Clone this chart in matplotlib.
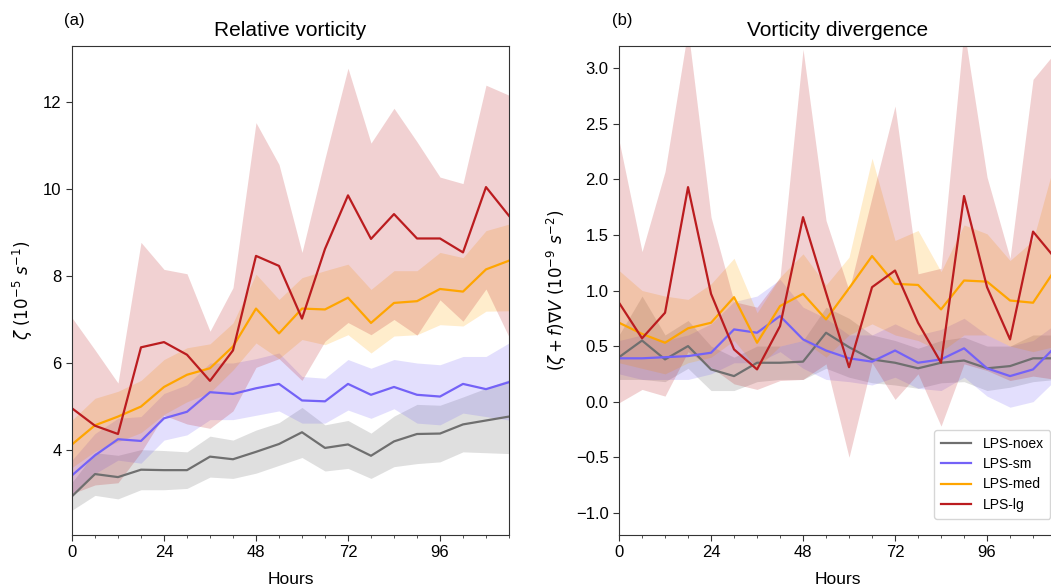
import matplotlib
matplotlib.use("Agg")
import matplotlib.pyplot as plt
from matplotlib.ticker import MultipleLocator

plt.rcParams['font.family'] = ['Liberation Sans', 'DejaVu Sans']
plt.rcParams['mathtext.fontset'] = 'dejavusans'

hours = [0, 6, 12, 18, 24, 30, 36, 42, 48, 54, 60, 66, 72, 78, 84, 90, 96, 102, 108, 114]

# (a) relative vorticity, 1e-5 s^-1
noex_mean = [2.94, 3.45, 3.38, 3.55, 3.54, 3.54, 3.85, 3.79, 3.96, 4.14, 4.41, 4.05, 4.13, 3.87, 4.2, 4.37, 4.38, 4.59, 4.68, 4.77]
noex_lo = [2.62, 2.96, 2.88, 3.09, 3.09, 3.12, 3.38, 3.35, 3.47, 3.65, 3.83, 3.52, 3.58, 3.35, 3.62, 3.69, 3.73, 3.96, 3.94, 3.92]
noex_hi = [3.26, 3.94, 3.88, 4.01, 3.99, 3.96, 4.32, 4.23, 4.46, 4.63, 4.98, 4.58, 4.68, 4.39, 4.78, 5.05, 5.03, 5.22, 5.42, 5.62]

sm_mean = [3.42, 3.88, 4.25, 4.21, 4.73, 4.88, 5.33, 5.29, 5.42, 5.52, 5.14, 5.12, 5.52, 5.27, 5.45, 5.27, 5.23, 5.52, 5.4, 5.56]
sm_lo = [3.0, 3.46, 3.77, 3.7, 4.23, 4.35, 4.7, 4.7, 4.8, 4.9, 4.62, 4.62, 4.92, 4.73, 4.95, 4.62, 4.58, 4.85, 4.77, 4.69]
sm_hi = [3.77, 4.38, 4.73, 4.77, 5.3, 5.5, 6.0, 6.0, 6.1, 6.23, 5.69, 5.65, 6.08, 5.88, 6.08, 6.0, 5.96, 6.15, 6.15, 6.46]

med_mean = [4.13, 4.57, 4.77, 5.0, 5.45, 5.73, 5.88, 6.38, 7.25, 6.68, 7.25, 7.23, 7.5, 6.92, 7.38, 7.42, 7.7, 7.64, 8.15, 8.35]
med_lo = [3.6, 3.97, 4.19, 4.4, 4.82, 5.11, 5.32, 5.84, 6.46, 6.1, 6.54, 6.42, 6.65, 6.23, 6.62, 6.65, 6.88, 6.85, 7.19, 7.2]
med_hi = [4.69, 5.19, 5.35, 5.6, 6.08, 6.35, 6.44, 6.92, 8.04, 7.46, 7.96, 8.12, 8.27, 7.69, 8.12, 8.12, 8.54, 8.42, 9.04, 9.19]

lg_mean = [4.96, 4.56, 4.37, 6.36, 6.48, 6.19, 5.59, 6.29, 8.46, 8.23, 7.02, 8.62, 9.85, 8.85, 9.42, 8.86, 8.86, 8.54, 10.04, 9.38]
lg_lo = [3.0, 3.2, 3.25, 3.95, 4.8, 4.6, 4.5, 4.9, 5.9, 6.1, 5.6, 6.5, 6.93, 6.65, 7.0, 6.64, 7.45, 6.96, 7.7, 6.6]
lg_hi = [7.04, 6.3, 5.54, 8.77, 8.15, 8.05, 6.73, 7.73, 11.52, 10.56, 8.54, 10.7, 12.77, 11.05, 11.85, 11.08, 10.27, 10.12, 12.38, 12.15]

# (b) vorticity divergence, 1e-9 s^-2
noex_div = [0.4, 0.55, 0.38, 0.5, 0.29, 0.23, 0.35, 0.35, 0.36, 0.62, 0.49, 0.38, 0.35, 0.3, 0.35, 0.37, 0.3, 0.32, 0.39, 0.39]
noex_div_lo = [0.2, 0.2, 0.18, 0.3, 0.1, 0.1, 0.18, 0.2, 0.2, 0.3, 0.22, 0.17, 0.15, 0.12, 0.17, 0.18, 0.1, 0.13, 0.18, 0.2]
noex_div_hi = [0.6, 0.95, 0.6, 0.73, 0.5, 0.4, 0.5, 0.5, 0.55, 0.85, 0.75, 0.6, 0.55, 0.48, 0.55, 0.58, 0.5, 0.5, 0.6, 0.6]

sm_div = [0.39, 0.39, 0.4, 0.41, 0.44, 0.65, 0.62, 0.77, 0.56, 0.46, 0.39, 0.36, 0.46, 0.35, 0.38, 0.48, 0.3, 0.23, 0.29, 0.5]
sm_div_lo = [0.25, 0.2, 0.2, 0.2, 0.25, 0.35, 0.35, 0.45, 0.3, 0.2, 0.18, 0.15, 0.22, 0.12, 0.1, 0.22, 0.05, -0.05, 0.0, 0.2]
sm_div_hi = [0.55, 0.6, 0.55, 0.6, 0.7, 0.9, 0.95, 1.1, 0.85, 0.75, 0.6, 0.6, 0.7, 0.6, 0.65, 0.75, 0.6, 0.5, 0.55, 0.7]

med_div = [0.71, 0.61, 0.53, 0.66, 0.71, 0.94, 0.53, 0.86, 0.97, 0.74, 1.02, 1.31, 1.06, 1.05, 0.83, 1.09, 1.08, 0.91, 0.89, 1.2]
med_div_lo = [0.35, 0.3, 0.25, 0.35, 0.4, 0.55, 0.3, 0.5, 0.55, 0.4, 0.6, 0.7, 0.6, 0.55, 0.45, 0.6, 0.6, 0.5, 0.45, 0.5]
med_div_hi = [1.18, 1.0, 0.95, 0.92, 1.06, 1.29, 0.8, 1.12, 1.33, 1.05, 1.3, 2.19, 1.45, 1.54, 1.17, 1.59, 1.51, 1.27, 1.45, 2.2]

lg_div = [0.89, 0.57, 0.8, 1.93, 0.97, 0.47, 0.29, 0.68, 1.66, 0.98, 0.31, 1.03, 1.18, 0.71, 0.35, 1.85, 1.03, 0.56, 1.53, 1.28]
lg_div_lo = [-0.01, 0.11, 0.05, 0.45, 0.31, 0.16, 0.11, 0.19, 0.2, 0.34, -0.5, 0.35, 0.02, 0.25, -0.22, 0.34, 0.28, 0.19, 0.23, 0.2]
lg_div_hi = [2.35, 1.35, 2.07, 3.35, 1.66, 0.9, 0.85, 1.12, 3.17, 1.63, 1.0, 1.84, 2.66, 1.15, 1.2, 3.35, 2.02, 1.29, 2.9, 3.15]

names = ['LPS-noex', 'LPS-sm', 'LPS-med', 'LPS-lg']
colors = ['#6f6f6f', '#7462f7', '#ffa500', '#bb1c1f']
fill_alpha = [0.22, 0.2, 0.2, 0.2]

fig = plt.figure(figsize=(10.51, 5.86), dpi=100)
ax1 = fig.add_axes([0.0685, 0.087, 0.4158, 0.8345])
ax2 = fig.add_axes([0.589, 0.087, 0.4158, 0.8345])

panel_a = [(noex_mean, noex_lo, noex_hi), (sm_mean, sm_lo, sm_hi),
           (med_mean, med_lo, med_hi), (lg_mean, lg_lo, lg_hi)]
panel_b = [(noex_div, noex_div_lo, noex_div_hi), (sm_div, sm_div_lo, sm_div_hi),
           (med_div, med_div_lo, med_div_hi), (lg_div, lg_div_lo, lg_div_hi)]

for ax, panel in [(ax1, panel_a), (ax2, panel_b)]:
    for (m, lo, hi), c, a in zip(panel, colors, fill_alpha):
        ax.fill_between(hours, lo, hi, color=c, alpha=a, linewidth=0)
    for (m, lo, hi), c, n in zip(panel, colors, names):
        ax.plot(hours, m, color=c, lw=1.6, label=n)
    ax.set_xlim(0, 114)
    ax.xaxis.set_major_locator(MultipleLocator(24))
    ax.xaxis.set_minor_locator(MultipleLocator(6))
    ax.tick_params(labelsize=12, length=4, color='#333333')
    ax.tick_params(which='minor', length=2.5, color='#333333')
    ax.set_xlabel('Hours', fontsize=12.5, labelpad=8)
    for s in ax.spines.values():
        s.set_color('#333333')

ax1.set_ylim(2.05, 13.28)
ax1.yaxis.set_major_locator(MultipleLocator(2))
ax1.set_ylabel(r'$\zeta\ (10^{-5}\ s^{-1})$', fontsize=12, labelpad=6)
ax1.set_title('Relative vorticity', fontsize=15, pad=7)

ax2.set_ylim(-1.2, 3.2)
ax2.yaxis.set_major_locator(MultipleLocator(0.5))
ax2.set_ylabel(r'$(\zeta + f)\nabla V\ (10^{-9}\ s^{-2})$', fontsize=12, labelpad=5)
ax2.set_title('Vorticity divergence', fontsize=15, pad=7)

fig.text(0.061, 0.958, '(a)', fontsize=12)
fig.text(0.582, 0.958, '(b)', fontsize=12)

ax2.legend(loc='lower left', bbox_to_anchor=(0.8885, 0.115), bbox_transform=fig.transFigure,
           fontsize=10, frameon=True, fancybox=True, edgecolor='#cccccc',
           handlelength=2.2, borderpad=0.5, labelspacing=0.45, borderaxespad=0)

fig.savefig('out.png', dpi=100)
